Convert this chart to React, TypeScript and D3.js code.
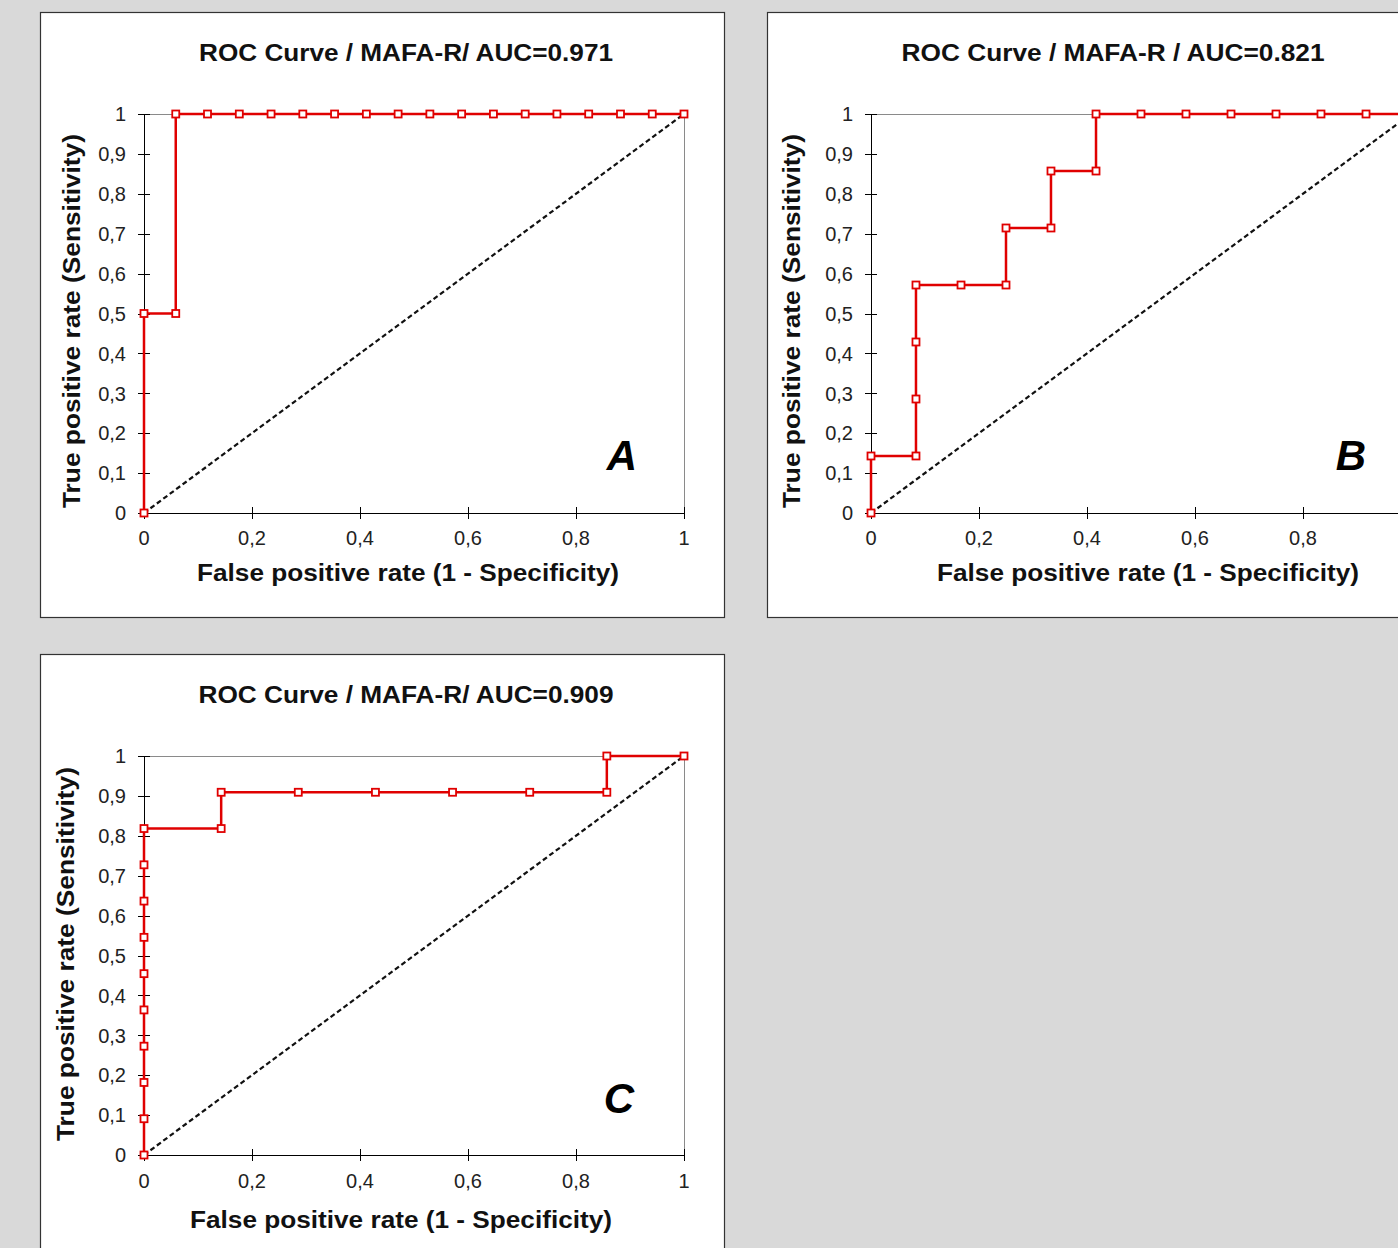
import React from 'react';
import * as d3 from 'd3';

// ROC points
const fprA = [0, 0, 0.0588, 0.0588, 0.1176, 0.1765, 0.2353, 0.2941, 0.3529, 0.4118, 0.4706, 0.5294, 0.5882, 0.6471, 0.7059, 0.7647, 0.8235, 0.8824, 0.9412, 1];
const tprA = [0, 0.5, 0.5, 1, 1, 1, 1, 1, 1, 1, 1, 1, 1, 1, 1, 1, 1, 1, 1, 1];

const fprB = [0, 0, 0.0833, 0.0833, 0.0833, 0.0833, 0.1667, 0.25, 0.25, 0.3333, 0.3333, 0.4167, 0.4167, 0.5, 0.5833, 0.6667, 0.75, 0.8333, 0.9167, 1];
const tprB = [0, 0.1429, 0.1429, 0.2857, 0.4286, 0.5714, 0.5714, 0.5714, 0.7143, 0.7143, 0.8571, 0.8571, 1, 1, 1, 1, 1, 1, 1, 1];

const fprC = [0, 0, 0, 0, 0, 0, 0, 0, 0, 0, 0.1429, 0.1429, 0.2857, 0.4286, 0.5714, 0.7143, 0.8571, 0.8571, 1];
const tprC = [0, 0.0909, 0.1818, 0.2727, 0.3636, 0.4545, 0.5455, 0.6364, 0.7273, 0.8182, 0.8182, 0.9091, 0.9091, 0.9091, 0.9091, 0.9091, 0.9091, 1, 1];

const yTicks = [0, 0.1, 0.2, 0.3, 0.4, 0.5, 0.6, 0.7, 0.8, 0.9, 1];
const yTickLabels = ['0', '0,1', '0,2', '0,3', '0,4', '0,5', '0,6', '0,7', '0,8', '0,9', '1'];
const xTicks = [0, 0.2, 0.4, 0.6, 0.8, 1];
const xTickLabels = ['0', '0,2', '0,4', '0,6', '0,8', '1'];

const titles = ['ROC Curve / MAFA-R/ AUC=0.971', 'ROC Curve / MAFA-R / AUC=0.821', 'ROC Curve / MAFA-R/ AUC=0.909'];
const letters = ['A', 'B', 'C'];
const xLabel = 'False positive rate (1 - Specificity)';
const yLabel = 'True positive rate (Sensitivity)';

const FONT = 'Liberation Sans, Arial, sans-serif';
const RED = '#e00000';
const W = 1398;
const H = 1248;
const PW = 540;
const PH = 399;

type Layout = {
  box: [number, number, number, number];
  left: number;
  top: number;
  titleX: number;
  titleY: number;
  titleLen: number;
  letterX: number;
  letterY: number;
  yLabX: number;
  yLabY: number;
  xLabX: number;
  xLabY: number;
  tickDy: number;
};

const layouts: Layout[] = [
  { box: [40, 12, 684, 605], left: 144, top: 114, titleX: 406, titleY: 61, titleLen: 414, letterX: 622, letterY: 470, yLabX: 80, yLabY: 321, xLabX: 408, xLabY: 581, tickDy: 32 },
  { box: [767, 12, 720, 605], left: 871, top: 114, titleX: 1113, titleY: 61, titleLen: 423, letterX: 1351, letterY: 470, yLabX: 800, yLabY: 321, xLabX: 1148, xLabY: 581, tickDy: 32 },
  { box: [40, 654, 684, 640], left: 144, top: 756, titleX: 406, titleY: 703, titleLen: 415, letterX: 619, letterY: 1113, yLabX: 74, yLabY: 954, xLabX: 401, xLabY: 1228, tickDy: 33 },
];

function Panel({ fpr, tpr, idx }: { fpr: number[]; tpr: number[]; idx: number }) {
  const L = layouts[idx];
  const x = d3.scaleLinear().domain([0, 1]).range([L.left, L.left + PW]);
  const y = d3.scaleLinear().domain([0, 1]).range([L.top + PH, L.top]);
  const pts = fpr.map((f, i) => [f, tpr[i]] as [number, number]);
  const line = d3
    .line<[number, number]>()
    .x((d) => x(d[0]))
    .y((d) => y(d[1]));
  const [bx, by, bw, bh] = L.box;

  return (
    <g>
      <rect x={bx + 0.5} y={by + 0.5} width={bw} height={bh} fill="#fff" stroke="#333" strokeWidth={1.2} />
      <text x={L.titleX} y={L.titleY} textAnchor="middle" fontFamily={FONT} fontWeight="bold" fontSize={24}
        textLength={L.titleLen} lengthAdjust="spacingAndGlyphs" fill="#111">
        {titles[idx]}
      </text>

      {/* plot frame, top and right in grey */}
      <path d={`M${x(0)},${y(1) + 0.5}H${x(1) + 0.5}V${y(0)}`} fill="none" stroke="#8a8a8a" strokeWidth={1} />

      {/* chance diagonal */}
      <line x1={x(0)} y1={y(0)} x2={x(1)} y2={y(1)} stroke="#111" strokeWidth={2.2} strokeDasharray="5,3" />

      {/* y axis */}
      <line x1={x(0) + 0.5} y1={y(0)} x2={x(0) + 0.5} y2={y(1)} stroke="#000" strokeWidth={1} />
      {yTicks.map((t, i) => (
        <g key={'y' + i}>
          <line x1={x(0) - 6} x2={x(0) + 6} y1={Math.round(y(t)) + 0.5} y2={Math.round(y(t)) + 0.5} stroke="#000" strokeWidth={1} />
          <text x={x(0) - 18} y={y(t)} dy="0.36em" textAnchor="end" fontFamily={FONT} fontSize={20} fill="#222">
            {yTickLabels[i]}
          </text>
        </g>
      ))}

      {/* x axis */}
      <line x1={x(0)} y1={y(0) + 0.5} x2={x(1)} y2={y(0) + 0.5} stroke="#000" strokeWidth={1} />
      {xTicks.map((t, i) => (
        <g key={'x' + i}>
          <line x1={Math.round(x(t)) + 0.5} x2={Math.round(x(t)) + 0.5} y1={y(0) - 6} y2={y(0) + 6} stroke="#000" strokeWidth={1} />
          {x(t) + 8 < W && (
            <text x={x(t)} y={y(0) + L.tickDy} textAnchor="middle" fontFamily={FONT} fontSize={20} fill="#222">
              {xTickLabels[i]}
            </text>
          )}
        </g>
      ))}

      {/* ROC curve */}
      <path d={line(pts) || ''} fill="none" stroke={RED} strokeWidth={2.5} />
      {pts.map((p, i) => (
        <rect key={'m' + i} x={x(p[0]) - 3.5} y={y(p[1]) - 3.5} width={7} height={7} fill="#fff" stroke={RED} strokeWidth={1.8} />
      ))}

      <text x={L.letterX} y={L.letterY} textAnchor="middle" fontFamily={FONT} fontWeight="bold" fontStyle="italic" fontSize={42} fill="#000">
        {letters[idx]}
      </text>

      <text x={L.xLabX} y={L.xLabY} textAnchor="middle" fontFamily={FONT} fontWeight="bold" fontSize={23}
        textLength={422} lengthAdjust="spacingAndGlyphs" fill="#111">
        {xLabel}
      </text>
      <text transform={`translate(${L.yLabX},${L.yLabY}) rotate(-90)`} textAnchor="middle" fontFamily={FONT} fontWeight="bold" fontSize={23}
        textLength={374} lengthAdjust="spacingAndGlyphs" fill="#111">
        {yLabel}
      </text>
    </g>
  );
}

export default function App() {
  return (
    <svg width={W} height={H} style={{ position: 'absolute', left: 0, top: 0 }}>
      <rect width={W} height={H} fill="#d9d9d9" />
      <Panel fpr={fprA} tpr={tprA} idx={0} />
      <Panel fpr={fprB} tpr={tprB} idx={1} />
      <Panel fpr={fprC} tpr={tprC} idx={2} />
    </svg>
  );
}
